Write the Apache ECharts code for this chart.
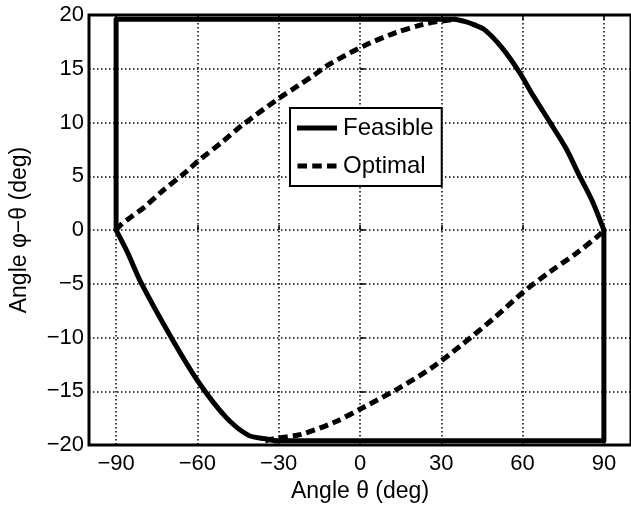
<!DOCTYPE html>
<html>
<head>
<meta charset="utf-8">
<script src="https://cdn.jsdelivr.net/npm/echarts@6/dist/echarts.min.js"></script>
<style>
  html, body { margin: 0; padding: 0; background: #fff; }
  #chart { width: 631px; height: 508px; }
</style>
</head>
<body>
<div id="chart"></div>
<script>
// Tick positions
const xTicks = [-90, -60, -30, 0, 30, 60, 90];
const yTicks = [-20, -15, -10, -5, 0, 5, 10, 15, 20];

// Feasible region boundary, theta vs phi-theta in degrees
// straight edges of the boundary
const feasibleEdgeA_Theta = [-90, -90, 35];
const feasibleEdgeA_Diff = [0, 19.6, 19.6];
const feasibleEdgeB_Theta = [90, 90, -31.4];
const feasibleEdgeB_Diff = [0, -19.6, -19.6];
// curved parts of the boundary
const feasibleArcUpperTheta = [35, 38.6, 42, 45.8, 51.9, 58.5, 63.9, 70, 76, 80.8, 85.7, 90];
const feasibleArcUpperDiff = [19.6, 19.4, 19.1, 18.66, 17.1, 14.8, 12.5, 10.06, 7.6, 5.14, 2.7, 0];
const feasibleArcLowerTheta = [-31.4, -35.1, -41.1, -49.5, -59.8, -69.5, -80.9, -85.8, -90];
const feasibleArcLowerDiff = [-19.6, -19.4, -19.1, -17.4, -14.06, -10.06, -4.84, -2.07, 0];

// Optimal trajectory, upper branch
const optimalUpperTheta = [-90, -88.2, -84.6, -79.7, -73.7, -64, -59.8, -50.8, -43.5, -30.2, -23, -17, -12.1, 1.2, 13.2, 22.9, 28.9, 35];
const optimalUpperDiff = [0, 0.5, 1.2, 2.1, 3.46, 5.45, 6.4, 8.2, 9.75, 12.2, 13.4, 14.4, 15.3, 17.1, 18.36, 19.1, 19.4, 19.6];

// Optimal trajectory, lower branch
const optimalLowerTheta = [-35, -31.4, -21.8, -9.7, 1.2, 14.4, 26.5, 37.4, 49.4, 60.3, 70, 79.6, 88.1, 90];
const optimalLowerDiff = [-19.6, -19.4, -19.0, -17.9, -16.5, -14.7, -12.8, -10.7, -8.2, -5.76, -3.9, -2.2, -0.5, 0];

const pairs = (xs, ys) => xs.map((x, i) => [x, ys[i]]);

const FONT = "'Liberation Sans', Arial, Helvetica, sans-serif";
const minusFmt = v => String(v).replace('-', '\u2212');

const chart = echarts.init(document.getElementById('chart'), null, { renderer: 'canvas' });

const gridLine = { show: true, lineStyle: { color: '#000', width: 1.5, type: [1.5, 2.5] } };
const tickStyle = { color: '#000', width: 1.5 };

const solidStyle = { color: '#000', width: 5, join: 'round', cap: 'round' };
const dashStyle = { color: '#000', width: 5, type: [9, 5] };

function lineSeries(name, xs, ys, style, smooth, z) {
  return {
    name, type: 'line',
    data: pairs(xs, ys),
    showSymbol: false, symbol: 'none',
    smooth: smooth,
    lineStyle: style,
    itemStyle: { color: '#000' },
    emphasis: { disabled: true },
    z
  };
}

chart.setOption({
  animation: false,
  backgroundColor: '#fff',
  grid: {
    left: 88, top: 15, width: 552, height: 434,
    show: true, borderColor: '#000', borderWidth: 3, backgroundColor: 'transparent'
  },
  legend: {
    left: 290, top: 108,
    orient: 'vertical',
    backgroundColor: '#fff',
    borderColor: '#000', borderWidth: 2,
    padding: [8, 8, 8, 7],
    itemGap: 14,
    itemWidth: 42, itemHeight: 20,
    textStyle: { fontFamily: FONT, fontSize: 24, color: '#000' },
    data: [
      { name: 'Feasible', icon: 'path://M0,8H42V13H0Z M0,0H0.01V21H0Z' },
      { name: 'Optimal', icon: 'path://M0,8H10V13H0Z M15.5,8H25.5V13H15.5Z M31,8H41V13H31Z M0,0H0.01V21H0Z' }
    ]
  },
  xAxis: [{
    type: 'value', min: -100, max: 100,
    name: 'Angle \u03b8 (deg)', nameLocation: 'middle', nameGap: 34,
    nameTextStyle: { fontFamily: FONT, fontSize: 23, color: '#000' },
    axisLine: { show: false },
    axisTick: { show: true, inside: true, length: 5, customValues: xTicks, lineStyle: tickStyle },
    axisLabel: { customValues: xTicks, formatter: minusFmt, margin: 8, fontFamily: FONT, fontSize: 22, color: '#000' },
    splitLine: gridLine
  }, {
    type: 'value', min: -100, max: 100, position: 'top',
    axisLine: { show: false },
    axisTick: { show: true, inside: true, length: 5, customValues: xTicks, lineStyle: tickStyle },
    axisLabel: { show: false },
    splitLine: { show: false }
  }],
  yAxis: {
    type: 'value', min: -20, max: 20, interval: 5,
    name: 'Angle \u03c6\u2212\u03b8 (deg)', nameLocation: 'middle', nameGap: 58,
    nameTextStyle: { fontFamily: FONT, fontSize: 23, color: '#000' },
    axisLine: { show: false },
    axisTick: { show: true, inside: true, length: 5, lineStyle: tickStyle },
    axisLabel: { formatter: minusFmt, margin: 5, fontFamily: FONT, fontSize: 22, color: '#000' },
    splitLine: gridLine
  },
  series: [
    lineSeries('Feasible', feasibleEdgeA_Theta, feasibleEdgeA_Diff, solidStyle, false, 3),
    lineSeries('Feasible', feasibleEdgeB_Theta, feasibleEdgeB_Diff, solidStyle, false, 3),
    lineSeries('Feasible', feasibleArcUpperTheta, feasibleArcUpperDiff, solidStyle, 0.3, 3),
    lineSeries('Feasible', feasibleArcLowerTheta, feasibleArcLowerDiff, solidStyle, 0.3, 3),
    lineSeries('Optimal', optimalUpperTheta, optimalUpperDiff, dashStyle, 0.3, 2),
    lineSeries('Optimal', optimalLowerTheta, optimalLowerDiff, dashStyle, 0.3, 2)
  ]
});
</script>
</body>
</html>
